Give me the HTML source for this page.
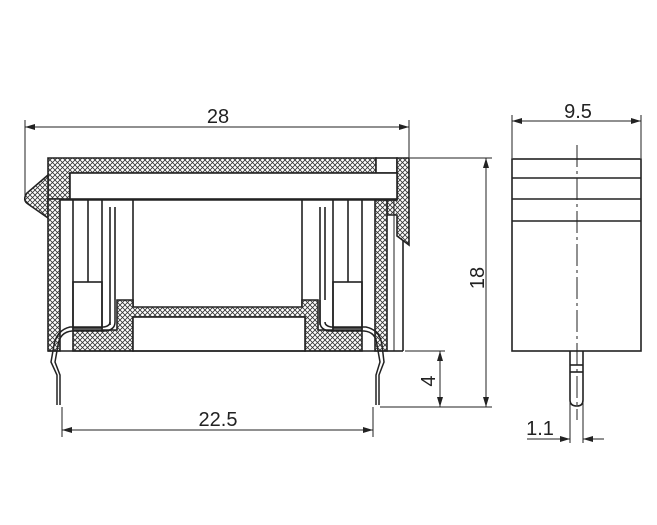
<!DOCTYPE html>
<html><head><style>body{margin:0;background:#fff}svg{display:block}</style></head><body>
<svg width="657" height="525" viewBox="0 0 657 525" xmlns="http://www.w3.org/2000/svg" font-family="Liberation Sans, sans-serif">
<defs>
<pattern id="h" width="5" height="5" patternUnits="userSpaceOnUse">
<rect width="5" height="5" fill="#fff"/>
<path d="M0 0L5 5M5 0L0 5" stroke="#333" stroke-width="0.8"/>
</pattern>
<marker id="a" viewBox="0 0 10 6" refX="10" refY="3" markerWidth="10" markerHeight="6" orient="auto-start-reverse"><path d="M0 0L10 3L0 6z" fill="#222"/></marker>
</defs>
<g stroke="#222" stroke-width="1.6" fill="none">
<path d="M48 158H376V173H70V199H48Z" fill="url(#h)"/>
<rect x="376" y="158" width="21" height="15" fill="#fff"/>
<path d="M397 158H409V245L397 236V215H387V200H397Z" fill="url(#h)"/>
<rect x="70" y="173" width="327" height="26" fill="#fff"/>
<path d="M48 175L27 193Q22 200 28 204L48 218Z" fill="url(#h)"/>
<path d="M48 199H60V351H48Z" fill="url(#h)"/>
<path d="M375 200H387V351H375Z" fill="url(#h)"/>
<line x1="403" y1="240" x2="403" y2="351"/>
<line x1="387" y1="351" x2="403" y2="351"/>
<line x1="60" y1="200" x2="397" y2="200"/>
<line x1="73" y1="200" x2="73" y2="330"/>
<line x1="88" y1="200" x2="88" y2="282"/>
<line x1="102" y1="200" x2="102" y2="330"/>
<rect x="73" y="282" width="29" height="46"/>
<line x1="110" y1="207" x2="110" y2="325"/>
<line x1="115" y1="207" x2="115" y2="300"/>
<line x1="133" y1="200" x2="133" y2="307"/>
<line x1="394" y1="200" x2="394" y2="351" stroke-width="1"/>
<line x1="362" y1="200" x2="362" y2="330"/>
<line x1="348" y1="200" x2="348" y2="282"/>
<line x1="333" y1="200" x2="333" y2="330"/>
<rect x="333" y="282" width="29" height="46"/>
<line x1="320" y1="207" x2="320" y2="325"/>
<line x1="325" y1="207" x2="325" y2="300"/>
<line x1="302" y1="200" x2="302" y2="307"/>
<path d="M117 300H133V307H302V300H318V330H362V351H305V317H133V351H73V330H117Z" fill="url(#h)"/>
<rect x="133" y="317" width="172" height="34" fill="#fff"/>
<line x1="48" y1="351" x2="387" y2="351"/>
<path d="M115 300V322Q115 330 105 331H72Q60 332 58 345L55 362L60 375V405" stroke-width="1.5"/>
<path d="M110 322Q110 326 104 327H70Q57 330 54 345L51 362L57 375V405" stroke-width="1.5"/>
<path d="M320 300V322Q320 330 330 331H364Q376 332 377 345L380 362L376 375V405" stroke-width="1.5"/>
<path d="M325 322Q325 326 331 327H366Q380 330 382 345L384 362L379 375V405" stroke-width="1.5"/>
</g>
<g stroke="#222" stroke-width="1" fill="none">
<line x1="25" y1="120" x2="25" y2="198"/>
<line x1="409" y1="120" x2="409" y2="158"/>
<line x1="25" y1="127" x2="409" y2="127" marker-start="url(#a)" marker-end="url(#a)"/>
<line x1="410" y1="158" x2="492" y2="158"/>
<line x1="380" y1="407" x2="492" y2="407"/>
<line x1="486" y1="158" x2="486" y2="407" marker-start="url(#a)" marker-end="url(#a)"/>
<line x1="405" y1="351" x2="445" y2="351"/>
<line x1="440" y1="351" x2="440" y2="407" marker-start="url(#a)" marker-end="url(#a)"/>
<line x1="62" y1="407" x2="62" y2="437"/>
<line x1="373" y1="407" x2="373" y2="437"/>
<line x1="62" y1="430" x2="373" y2="430" marker-start="url(#a)" marker-end="url(#a)"/>
<line x1="512" y1="115" x2="512" y2="158"/>
<line x1="641" y1="115" x2="641" y2="158"/>
<line x1="512" y1="121" x2="641" y2="121" marker-start="url(#a)" marker-end="url(#a)"/>
<line x1="570" y1="400" x2="570" y2="443"/>
<line x1="583" y1="400" x2="583" y2="443"/>
<line x1="527" y1="439" x2="570" y2="439" marker-end="url(#a)"/>
<line x1="604" y1="439" x2="583" y2="439" marker-end="url(#a)"/>
<line x1="577" y1="145" x2="577" y2="420" stroke-dasharray="22 4 3 4"/>
</g>
<g stroke="#222" stroke-width="1.6" fill="none">
<rect x="512" y="159" width="129" height="192"/>
<line x1="512" y1="178" x2="641" y2="178"/>
<line x1="512" y1="199" x2="641" y2="199"/>
<line x1="512" y1="221" x2="641" y2="221"/>
<path d="M570 351V400Q570 406 577 406Q583 406 583 400V351"/>
<line x1="570" y1="365" x2="583" y2="365"/>
<line x1="570" y1="372" x2="583" y2="372"/>
</g>
<g fill="#222" font-size="20">
<text x="218" y="123" text-anchor="middle">28</text>
<text x="578" y="118" text-anchor="middle">9.5</text>
<text x="218" y="426" text-anchor="middle">22.5</text>
<text x="540" y="435" text-anchor="middle">1.1</text>
<text transform="translate(484 278) rotate(-90)" text-anchor="middle">18</text>
<text transform="translate(435 381) rotate(-90)" text-anchor="middle">4</text>
</g>
</svg>
</body></html>
